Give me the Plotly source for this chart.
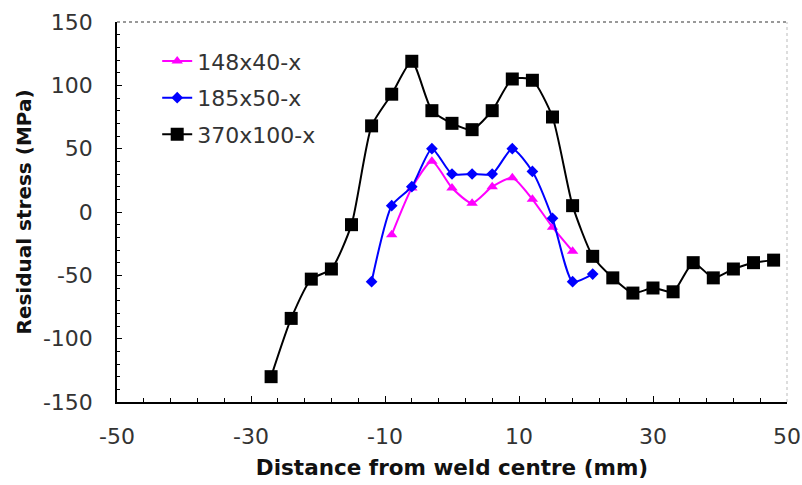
import plotly.graph_objects as go

# Data
x_370 = [-27, -24, -21, -18, -15, -12, -9, -6, -3, 0, 3, 6, 9, 12, 15, 18, 21, 24, 27, 30, 33, 36, 39, 42, 45, 48]
y_370 = [-130, -84, -53, -45, -10, 68, 93, 119, 80, 70, 65, 80, 105, 104, 75, 5, -35, -52, -64, -60, -63, -40, -52, -45, -40, -38]

x_185 = [-12, -9, -6, -3, 0, 3, 6, 9, 12, 15, 18, 21]
y_185 = [-55, 5, 20, 50, 30, 30, 30, 50, 32, -5, -55, -49]

x_148 = [-9, -6, -3, 0, 3, 6, 9, 12, 15, 18]
y_148 = [-18, 19, 40, 19, 7, 20, 27, 10, -12, -31]

names = ["148x40-x", "185x50-x", "370x100-x"]
x_ticks = [-50, -30, -10, 10, 30, 50]
y_ticks = [-150, -100, -50, 0, 50, 100, 150]

FONT = "DejaVu Sans, Liberation Sans, Arial, sans-serif"

fig = go.Figure()
fig.add_trace(go.Scatter(
    x=x_148, y=y_148, name=names[0], mode="lines+markers", legendgroup="a",
    line=dict(color="#FF00FF", width=2, shape="spline", smoothing=0.6),
    marker=dict(symbol="triangle-up", size=10, color="#FF00FF")))
fig.add_trace(go.Scatter(
    x=x_185, y=y_185, name=names[1], mode="lines+markers", legendgroup="b",
    line=dict(color="#0000FF", width=2, shape="spline", smoothing=0.6),
    marker=dict(symbol="diamond", size=9, color="#0000FF")))
fig.add_trace(go.Scatter(
    x=x_370, y=y_370, name=names[2], mode="lines+markers", legendgroup="c",
    line=dict(color="#000000", width=2, shape="spline", smoothing=0.6),
    marker=dict(symbol="square", size=13, color="#000000")))

# top and right frame lines (grey dotted)
fig.add_shape(type="line", xref="paper", yref="paper", x0=0, x1=1, y0=1, y1=1,
              line=dict(color="#999999", width=2, dash="dot"))
fig.add_shape(type="line", xref="paper", yref="paper", x0=1, x1=1, y0=0, y1=1,
              line=dict(color="#BBBBBB", width=1, dash="dot"))

fig.update_layout(
    width=802, height=485,
    margin=dict(l=117, r=15, t=22, b=83),
    paper_bgcolor="white", plot_bgcolor="white",
    font=dict(family=FONT, color="#333333"),
    showlegend=True,
    legend=dict(x=0.06, y=0.952, xanchor="left", yanchor="top",
                font=dict(size=22, color="#333333", family=FONT),
                bgcolor="rgba(0,0,0,0)", tracegroupgap=5),
    xaxis=dict(
        range=[-50, 50], tickvals=x_ticks, ticktext=[str(v) for v in x_ticks],
        showgrid=False, zeroline=False, showline=True, linecolor="black", linewidth=1.5,
        ticks="inside", ticklen=6, tickcolor="black", automargin=False,
        minor=dict(dtick=4, tick0=-50, ticks="inside", ticklen=4, tickcolor="black"),
        tickfont=dict(size=22, color="#333333"), ticklabelstandoff=14,
        title=dict(text="<b>Distance from weld centre (mm)</b>",
                   font=dict(size=21.5, color="#111111"), standoff=12),
    ),
    yaxis=dict(
        range=[-150, 150], tickvals=y_ticks, ticktext=[str(v) for v in y_ticks],
        showgrid=False, zeroline=False, showline=True, linecolor="black", linewidth=1.5,
        ticks="inside", ticklen=5, tickcolor="black", automargin=False,
        minor=dict(dtick=10, tick0=-150, ticks="inside", ticklen=3, tickcolor="black"),
        tickfont=dict(size=22, color="#333333"), ticklabelstandoff=18,
        title=dict(text="<b>Residual stress (MPa)</b>",
                   font=dict(size=20, color="#111111"), standoff=6),
    ),
)

fig.write_html("out.html")
